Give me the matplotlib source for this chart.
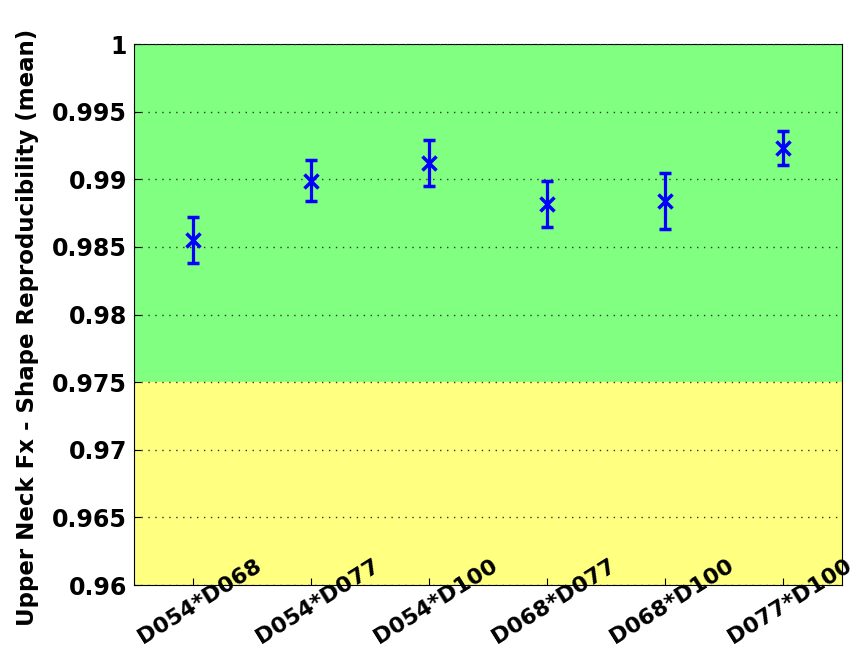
import numpy as np
import matplotlib.pyplot as plt
from matplotlib.ticker import FuncFormatter

pairs = ['D054*D068', 'D054*D077', 'D054*D100', 'D068*D077', 'D068*D100', 'D077*D100']
means = [0.9855, 0.9899, 0.9912, 0.9882, 0.9884, 0.9923]
errs = [0.0017, 0.0015, 0.0017, 0.0017, 0.0021, 0.00125]
good_limit = 0.975
y_lo, y_hi = 0.96, 1.0


def main():
	plt.rcParams['font.family'] = ['DejaVu Sans']
	fig = plt.figure(figsize=(8.6, 6.65), dpi=100)
	ax = fig.add_axes([0.156, 0.1203, 0.823, 0.8135])

	x = np.arange(1, len(pairs) + 1)

	# background bands
	ax.axhspan(good_limit, y_hi, color='#80ff80', zorder=0)
	ax.axhspan(y_lo, good_limit, color='#ffff80', zorder=0)

	ax.errorbar(x, means, yerr=errs, fmt='x', color='#0000ff', ecolor='#0000ff',
		elinewidth=2.3, capsize=4.5, capthick=2.5, markersize=10, markeredgewidth=2.5, zorder=3)

	ax.set_xlim(0.5, 6.5)
	ax.set_ylim(y_lo, y_hi)
	ax.set_yticks(np.arange(0.96, 1.0001, 0.005))
	ax.yaxis.set_major_formatter(FuncFormatter(lambda v, p: '%g' % round(v, 3)))
	ax.set_xticks(x)
	ax.set_xticklabels([])
	ax.tick_params(direction='in', length=5, labelsize=17, pad=5)
	for lbl in ax.get_yticklabels():
		lbl.set_fontweight('bold')
	ax.yaxis.grid(True, linestyle=(0, (1, 4)), color='#333333', linewidth=1)
	ax.set_axisbelow(False)

	tr = ax.get_xaxis_transform()
	for xi, name in zip(x, pairs):
		ax.text(xi + 0.06, -0.03, name, transform=tr, rotation=32, ha='center', va='center',
			fontsize=16, fontweight='bold', clip_on=False)

	ax.set_ylabel('Upper Neck Fx - Shape Reproducibility (mean)', fontsize=16.5, fontweight='bold')
	ax.yaxis.set_label_coords(-0.135, 0.477)

	fig.savefig('out.png', dpi=100)


if __name__ == "__main__":
	main()
